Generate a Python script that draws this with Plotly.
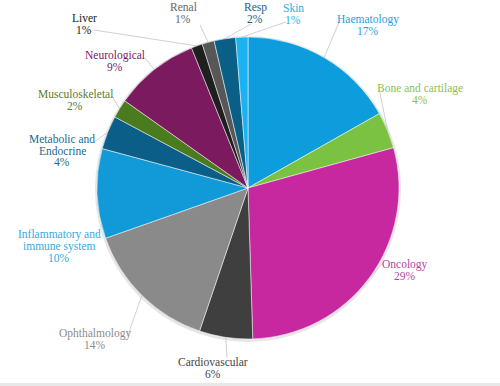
import math
import plotly.graph_objects as go

categories = ["Haematology", "Bone and cartilage", "Oncology", "Cardiovascular",
              "Ophthalmology", "Inflammatory and<br>immune system", "Metabolic and<br>Endocrine",
              "Musculoskeletal", "Neurological", "Liver", "Renal", "Resp", "Skin"]
values = [16.8, 3.9, 28.8, 5.7, 14.4, 9.6, 3.6, 2.0, 9.1, 1.2, 1.3, 2.3, 1.3]

slice_colors = ["#0e9ddc", "#7cc242", "#c8289f", "#3f3f3f", "#8a8a8a", "#1199d8",
                "#0b5e88", "#4b7b1f", "#7b1a5f", "#1f1f1f", "#575757", "#0a5f87", "#1cb2f2"]
label_colors = ["#2a9fd6", "#8cc152", "#b2479f", "#444444", "#8c8c8c", "#3aa8dc",
                "#1a6a90", "#5b7a2b", "#7b1a5f", "#222222", "#666666", "#1a6080", "#2ab0e8"]

# label text-block centres and leader-line start points (layout, page pixels)
label_pos = [(368, 25), (420, 94), (405, 270), (213, 368), (95, 339), (59, 246),
             (62, 151), (75, 100), (115, 61), (84, 24), (183, 13), (255, 13), (293, 14)]
leader_start = [(340, 20), (379, 88), (383, 263), (227, 358), (128, 335), None,
                (94, 142), (112, 96), (145, 58), (94, 30), (200, 25), (251, 24), (286, 22)]

W, H = 500, 386
CX, CY, R = 248, 188, 151
FONT = "Liberation Serif"
FS = 11.5
LINE = 11.5


def px(x):
    return x / W


def py(y):
    return 1 - y / H


shadow = go.Pie(
    values=[1], labels=[""], marker=dict(colors=["#e6e6e6"]), textinfo="none",
    hoverinfo="skip", showlegend=False, sort=False,
    domain=dict(x=[(CX - R - 2) / W, (CX + R + 2) / W],
                y=[1 - (CY + R + 3) / H, 1 - (CY - R - 1) / H]),
)

pie = go.Pie(
    labels=categories,
    values=values,
    sort=False,
    direction="clockwise",
    rotation=0,
    marker=dict(colors=slice_colors, line=dict(color="white", width=0.5)),
    textinfo="none",
    hoverinfo="label+percent",
    showlegend=False,
    domain=dict(x=[(CX - R) / W, (CX + R) / W], y=[1 - (CY + R) / H, 1 - (CY - R) / H]),
)

fig = go.Figure([shadow, pie])

total = sum(values)
cum = 0.0
annotations = []
shapes = [dict(type="rect", xref="paper", yref="paper", x0=0, x1=1, y0=0, y1=3 / H,
               fillcolor="#e8e8e8", line=dict(width=0), layer="below")]
for cat, v, col, (lx, ly), st in zip(categories, values, label_colors, label_pos, leader_start):
    mid = (cum + v / 2) / total * 2 * math.pi
    cum += v
    # slice edge point in page pixels
    ex = CX + R * math.sin(mid)
    ey = CY - R * math.cos(mid)
    lines = cat.split("<br>") + [f"{round(v / total * 100)}%"]
    n = len(lines)
    for i, t in enumerate(lines):
        yy = ly + (i - (n - 1) / 2) * LINE
        annotations.append(dict(
            x=px(lx), y=py(yy), xref="paper", yref="paper",
            xanchor="center", yanchor="middle", showarrow=False,
            text=t, font=dict(family=FONT, size=FS, color=col),
        ))
    if st is not None:
        shapes.append(dict(type="line", xref="paper", yref="paper",
                           x0=px(st[0]), y0=py(st[1]), x1=px(ex), y1=py(ey),
                           line=dict(color="#c4c4c4", width=0.8)))

fig.update_layout(
    width=W, height=H,
    margin=dict(l=0, r=0, t=0, b=0),
    paper_bgcolor="white",
    plot_bgcolor="white",
    annotations=annotations,
    shapes=shapes,
)

fig.write_html("out.html",
               config={"displayModeBar": False},
               post_script="document.body.style.margin='0px';document.body.style.overflow='hidden';")
